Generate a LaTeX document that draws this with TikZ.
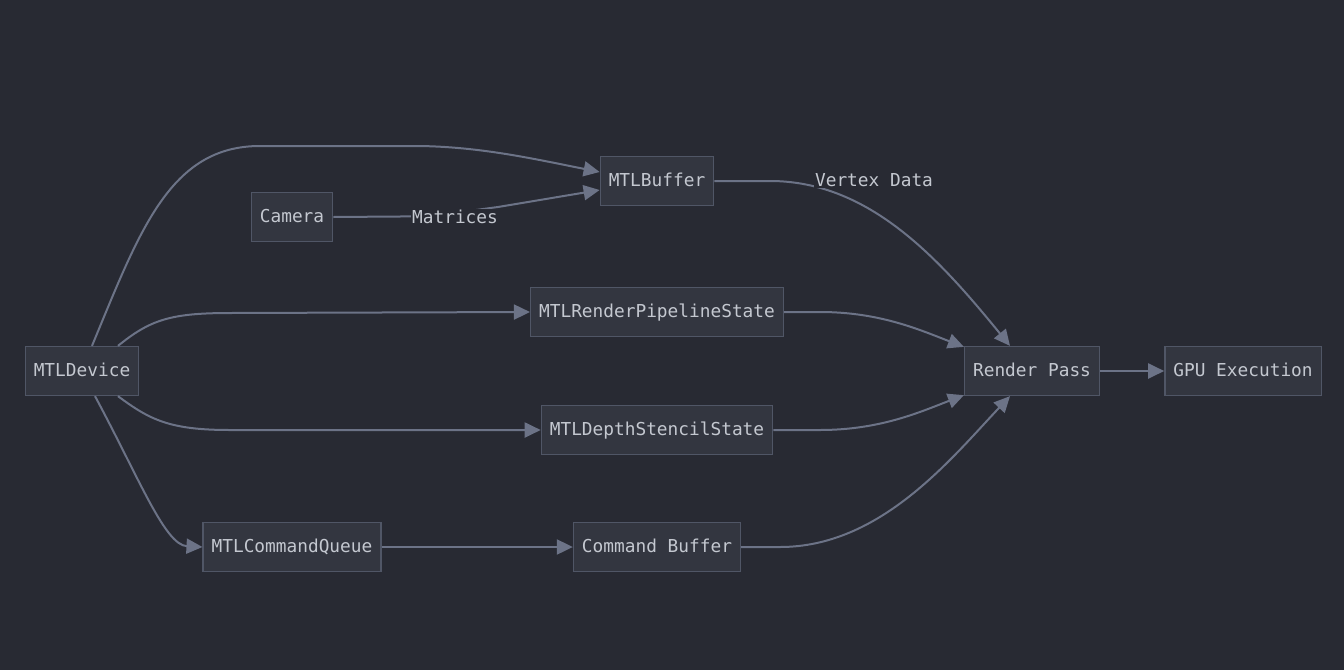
\documentclass[tikz,border=0pt]{standalone}
\usepackage{fontspec}
\setmonofont{DejaVu Sans Mono}
\usetikzlibrary{arrows.meta}
\definecolor{bgc}{RGB}{40,42,51}
\definecolor{nodefill}{RGB}{51,54,64}
\definecolor{nodeline}{RGB}{80,86,102}
\definecolor{edgec}{RGB}{108,115,135}
\definecolor{txtc}{RGB}{196,200,208}
\tikzset{
  box/.style={draw=nodeline, fill=nodefill, line width=1.3pt, text=txtc,
    font=\ttfamily\fontsize{17.8}{20}\selectfont, minimum height=49pt, inner xsep=8.5pt,
    text height=12.5pt, text depth=1.5pt},
  edge/.style={draw=edgec, line width=2pt, -{Triangle[length=16pt,width=15pt]}},
  elabel/.style={fill=bgc, text=txtc, font=\ttfamily\fontsize{17.8}{20}\selectfont, inner sep=1pt}
}
\begin{document}
\begin{tikzpicture}[x=1pt,y=-1pt]
\fill[bgc] (0,0) rectangle (1344,670);
\useasboundingbox (0,0) rectangle (1344,670);
\node[box] (dev) at (82,371) {MTLDevice};
\node[box] (cam) at (292,217) {Camera};
\node[box] (buf) at (657,181) {MTLBuffer};
\node[box] (rps) at (657,312) {MTLRenderPipelineState};
\node[box] (dss) at (657,430) {MTLDepthStencilState};
\node[box] (cq) at (292,547) {MTLCommandQueue};
\node[box] (cb) at (657,547) {Command Buffer};
\node[box] (rp) at (1032,371) {Render Pass};
\node[box] (gpu) at (1243,371) {GPU Execution};

\draw[edge] ([xshift=10pt]dev.north) .. controls (140,230) and (170,146) .. (260,146) -- (420,146) .. controls (480,147) and (530,158) .. ([yshift=9pt]buf.west);
\draw[edge] (cam.east) -- (400,216.5) .. controls (440,216) and (460,212) .. (498,207) -- ([yshift=-9pt]buf.west);
\node[elabel] (mat) at (455,217) {Matrices};
\draw[edge] ([xshift=36pt]dev.north) .. controls (150,320) and (170,313) .. (230,313) -- (rps.west);
\draw[edge] ([xshift=36pt]dev.south) .. controls (150,420) and (170,430) .. (230,430) -- (dss.west);
\draw[edge] ([xshift=13pt]dev.south) .. controls (140,480) and (165,545) .. (cq.west);
\draw[edge] (cq.east) -- (cb.west);
\draw[edge] (buf.east) -- (770,181) .. controls (870,181) and (940,260) .. ([xshift=-22pt]rp.north);
\node[elabel] (vd) at (874,180) {Vertex Data};
\draw[edge] (rps.east) -- (820,312) .. controls (880,312) and (920,330) .. ([yshift=-1pt]rp.north west);
\draw[edge] (dss.east) -- (820,430) .. controls (880,430) and (920,412) .. ([yshift=1pt]rp.south west);
\draw[edge] (cb.east) -- (780,547) .. controls (880,547) and (950,460) .. ([xshift=-22pt]rp.south);
\draw[edge] (rp.east) -- (gpu.west);
\end{tikzpicture}
\end{document}
